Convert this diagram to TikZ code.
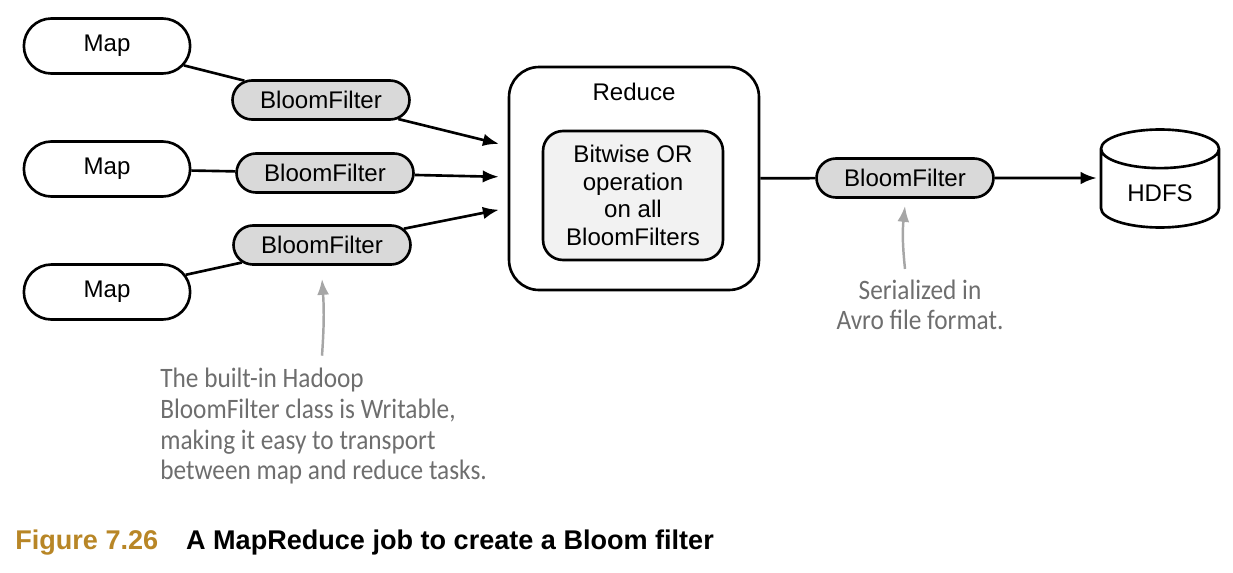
\documentclass[tikz,border=0pt]{standalone}
\usepackage{fontspec}
\setmainfont{Liberation Sans}
\newfontfamily\handfont[FakeStretch=0.9]{Carlito}
\usetikzlibrary{arrows.meta,shapes.misc,shapes.geometric}
\definecolor{capgold}{RGB}{184,134,38}
\definecolor{notegray}{RGB}{110,110,110}
\definecolor{arrowgray}{RGB}{166,166,166}
\definecolor{bffill}{RGB}{217,217,217}
\definecolor{opfill}{RGB}{242,242,242}
\tikzset{
  mapbox/.style={rounded rectangle,draw,line width=1.5pt,minimum width=3.56cm,minimum height=1.1cm,font=\fontsize{13.7}{16}\selectfont},
  bfbox/.style={rounded rectangle,draw,line width=1.5pt,fill=bffill,minimum width=3.54cm,minimum height=0.78cm,inner sep=0pt,font=\fontsize{13.7}{16}\selectfont},
  link/.style={line width=1.5pt},
  arr/.style={line width=1.5pt,-{Latex[length=0.32cm,width=0.25cm]}},
  notearr/.style={arrowgray,line width=1.4pt,-{Latex[length=0.32cm,width=0.24cm]}},
  note/.style={text=notegray,inner sep=0pt,font=\handfont\fontsize{16}{17.4}\selectfont}
}
\begin{document}
\begin{tikzpicture}[x=0.02cm,y=-0.02cm]
	\useasboundingbox (0,0) rectangle (1233,572);
	% map side
	\node[mapbox] (m1) at (107,46) {Map};
	\node[mapbox] (m2) at (107,169) {Map};
	\node[mapbox] (m3) at (107,292) {Map};
	\node[bfbox] (b1) at (321,100) {BloomFilter};
	\node[bfbox] (b2) at (325,173) {BloomFilter};
	\node[bfbox] (b3) at (322,245) {BloomFilter};
	% reduce side
	\node[draw,line width=1.5pt,rounded corners=0.6cm,minimum width=5cm,minimum height=4.46cm] (red) at (634,178.5) {};
	\node[font=\fontsize{13.7}{16}\selectfont] (redt) at (634,92) {Reduce};
	\node[draw,line width=1.5pt,fill=opfill,rounded corners=0.4cm,minimum width=3.6cm,minimum height=2.58cm,align=center,font=\fontsize{13.7}{15.7}\selectfont] (op) at (633,195.5) {Bitwise OR\\operation\\on all\\BloomFilters};
	\node[bfbox] (b4) at (905,178) {BloomFilter};
	\node[cylinder,shape border rotate=90,draw,line width=1.5pt,aspect=0.5,minimum width=2.36cm,minimum height=1.96cm,font=\fontsize{13.7}{16}\selectfont] (hdfs) at (1160,193) {HDFS};
	% connectors
	\foreach \i in {1,2,3}
	\draw[link] (m\i) -- (b\i);
	\draw[arr,shorten >=0.18cm] (b1) -- ([yshift=0.65cm]red.west);
	\draw[arr,shorten >=0.18cm] (b2) -- ([yshift=0.03cm]red.west);
	\draw[arr,shorten >=0.18cm] (b3) -- ([yshift=-0.59cm]red.west);
	\draw[link] (red) -- (b4);
	\draw[arr,shorten >=0.06cm] (b4) -- (b4 -| hdfs.west);
	% notes
	\node[note,align=left,anchor=north west] (note1) at (160,368) {The built-in Hadoop\\BloomFilter class is Writable,\\making it easy to transport\\between map and reduce tasks.};
	\node[note,align=center] (note2) at (920,305) {Serialized in\\Avro file format.};
	\draw[notearr] ([yshift=7pt]note1.north -| b3) to[bend right=4] ([yshift=-7.4pt]b3.south);
	\draw[notearr] ([yshift=6pt]note2.north -| b4) to[bend left=6] ([yshift=-4pt]b4.south);
	% caption
	\node[anchor=base west,inner sep=0pt,font=\bfseries\fontsize{15.4}{18}\selectfont] (cap) at (15,549) {\textcolor{capgold}{Figure 7.26}\hspace*{15.9pt}A MapReduce job to create a Bloom filter};
\end{tikzpicture}
\end{document}
